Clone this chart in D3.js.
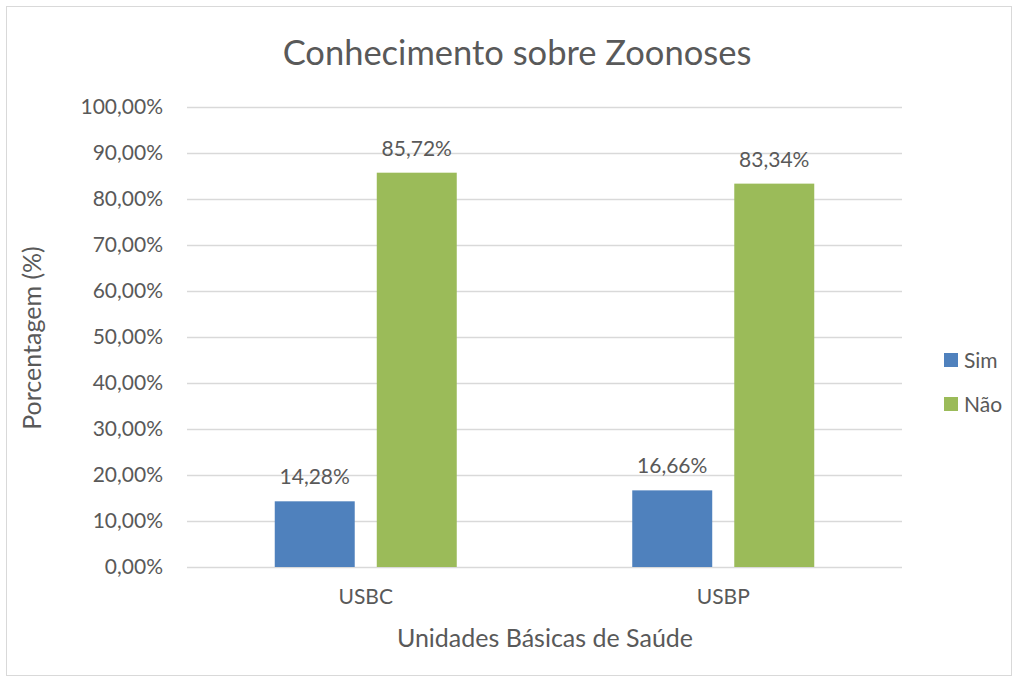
<!DOCTYPE html>
<html>
<head>
<meta charset="utf-8">
<script src="https://cdn.jsdelivr.net/npm/d3@7"></script>
<style>
  body { margin: 0; background: #fff; }
  text { font-family: Lato, "Open Sans", sans-serif; fill: #595959; }
</style>
</head>
<body>
<svg id="chart" width="1018" height="682"></svg>
<script>
var categories = ["USBC", "USBP"];
var series = ["Sim", "Não"];
var simValues = [14.28, 16.66];
var naoValues = [85.72, 83.34];
var yTicks = [0, 10, 20, 30, 40, 50, 60, 70, 80, 90, 100];
var colors = ["#4f81bd", "#9bbb59"];

var svg = d3.select("#chart"),
  margin = { top: 107, right: 116, bottom: 115, left: 187 },
  width = 1018,
  height = 682,
  plotW = width - margin.left - margin.right,
  plotH = height - margin.top - margin.bottom;

var fmt = function(v) { return v.toFixed(2).replace(".", ",") + "%"; };

// frame
svg.append("rect")
  .attr("x", 6.5).attr("y", 6.5)
  .attr("width", width - 13).attr("height", height - 13)
  .attr("fill", "#fff").attr("stroke", "#d9d9d9");

var g = svg.append("g").attr("transform", "translate(" + margin.left + "," + margin.top + ")");

var y = d3.scaleLinear().domain([0, 100]).range([plotH, 0]);
var x0 = d3.scaleBand().domain(categories).range([0, plotW]);
var pad = (x0.bandwidth() - 182) / 2;
var x1 = d3.scaleBand().domain(series).range([pad, x0.bandwidth() - pad]).paddingInner(0.216);

// gridlines + tick labels
var yAxis = d3.axisLeft(y).tickValues(yTicks).tickSize(-plotW).tickFormat(fmt).tickPadding(24);
var ya = g.append("g").call(yAxis);
ya.select(".domain").remove();
ya.selectAll(".tick line").attr("stroke", "#d9d9d9").attr("stroke-width", 1.5);
ya.selectAll(".tick text").attr("font-size", 21).style("fill", "#595959");

var rows = categories.map(function(c, i) {
  return { cat: c, vals: [simValues[i], naoValues[i]] };
});

var groups = g.selectAll(".grp").data(rows).enter().append("g")
  .attr("transform", function(d) { return "translate(" + x0(d.cat) + ",0)"; });

groups.selectAll("rect").data(function(d) {
  return d.vals.map(function(v, j) { return { s: series[j], v: v, c: colors[j] }; });
}).enter().append("rect")
  .attr("x", function(d) { return x1(d.s); })
  .attr("y", function(d) { return y(d.v); })
  .attr("width", x1.bandwidth())
  .attr("height", function(d) { return plotH - y(d.v); })
  .attr("fill", function(d) { return d.c; });

groups.selectAll(".lbl").data(function(d) {
  return d.vals.map(function(v, j) { return { s: series[j], v: v }; });
}).enter().append("text")
  .attr("class", "lbl")
  .attr("x", function(d) { return x1(d.s) + x1.bandwidth() / 2; })
  .attr("y", function(d) { return y(d.v) - 17; })
  .attr("text-anchor", "middle")
  .attr("font-size", 21)
  .text(function(d) { return fmt(d.v); });

// category labels
var xa = g.append("g").attr("transform", "translate(0," + plotH + ")")
  .call(d3.axisBottom(x0).tickSize(0).tickPadding(22));
xa.select(".domain").remove();
xa.selectAll(".tick text").attr("font-size", 21).style("fill", "#595959");

// titles
svg.append("text").attr("x", 517).attr("y", 65).attr("text-anchor", "middle")
  .attr("font-size", 34.5).text("Conhecimento sobre Zoonoses");

svg.append("text").attr("x", 545).attr("y", 647).attr("text-anchor", "middle")
  .attr("font-size", 25).text("Unidades Básicas de Saúde");

svg.append("text").attr("transform", "translate(41,338) rotate(-90)")
  .attr("text-anchor", "middle").attr("font-size", 25).text("Porcentagem (%)");

// legend
var leg = svg.append("g").attr("transform", "translate(944,353)");
var li = leg.selectAll("g").data(series).enter().append("g")
  .attr("transform", function(d, i) { return "translate(0," + i * 44 + ")"; });
li.append("rect").attr("width", 14).attr("height", 14)
  .attr("fill", function(d, i) { return colors[i]; });
li.append("text").attr("x", 20).attr("y", 14.5).attr("font-size", 21).text(function(d) { return d; });
</script>
</body>
</html>
